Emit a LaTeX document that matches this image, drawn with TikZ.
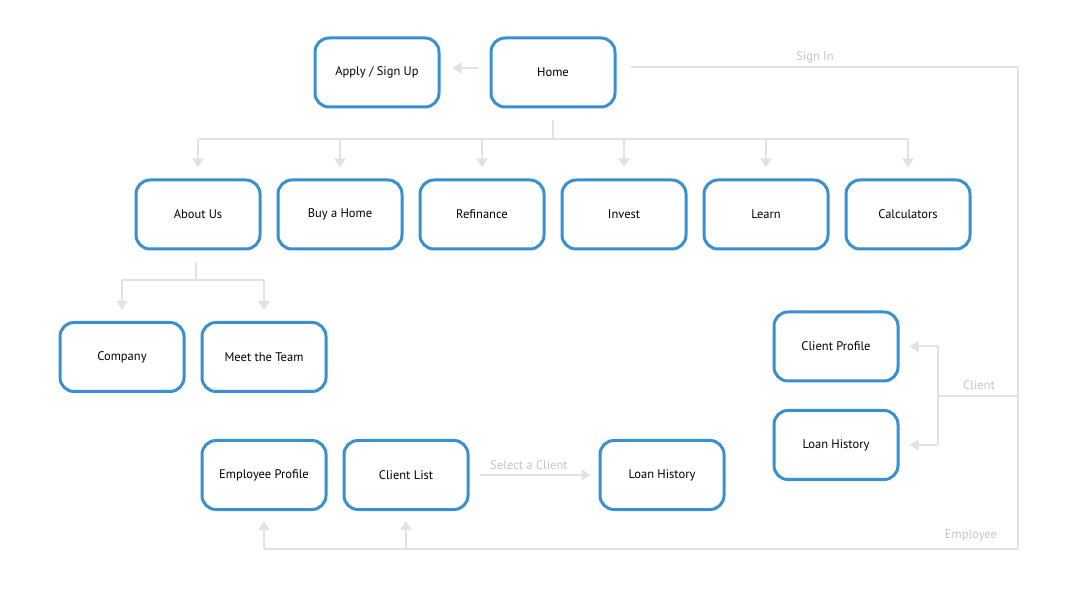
\documentclass[tikz,border=0pt]{standalone}
\usepackage{fontspec}
\setmainfont{PT Sans}
\usetikzlibrary{arrows.meta}
\definecolor{boxblue}{HTML}{3A8FD0}
\definecolor{linegray}{HTML}{E2E2E2}
\definecolor{labelgray}{HTML}{C4C4C4}
\tikzset{
  page/.style={draw=boxblue, line width=3pt, rounded corners=14pt, fill=white,
    minimum width=124pt, minimum height=69pt, inner sep=0pt,
    font=\fontsize{12.5}{14}\selectfont, text=black},
  conn/.style={draw=linegray, line width=2pt},
  arr/.style={conn, -{Triangle[width=11pt,length=9pt]}},
  lbl/.style={text=labelgray, font=\fontsize{12.5}{14}\selectfont, inner sep=0pt}
}
\begin{document}
\begin{tikzpicture}[x=1pt,y=-1pt]
\useasboundingbox (0,0) rectangle (1080,612);
% nodes
\node[page] (apply) at (377,72.5) {Apply / Sign Up};
\node[page] (home) at (553,72.5) {Home};
\node[page] (about) at (198,214.5) {About Us};
\node[page] (buy) at (340,214.5) {Buy a Home};
\node[page] (refi) at (482,214.5) {Refinance};
\node[page] (invest) at (624,214.5) {Invest};
\node[page] (learn) at (766,214.5) {Learn};
\node[page] (calc) at (908,214.5) {Calculators};
\node[page] (company) at (122,357) {Company};
\node[page] (team) at (264,357) {Meet the Team};
\node[page] (cprof) at (836,346.5) {Client Profile};
\node[page] (cloan) at (836,445) {Loan History};
\node[page] (eprof) at (264,475) {Employee Profile};
\node[page] (clist) at (406,475) {Client List};
\node[page] (eloan) at (662,475) {Loan History};
% coordinates
\coordinate (hb) at (553,139);
\coordinate (ab) at (196,280);
\coordinate (abt) at (196,262);
\coordinate (sr) at (1018,67);
\coordinate (br) at (1018,549);
\coordinate (cj) at (1018,396);
\coordinate (cv) at (938,396);
% Home -> Apply
\draw[arr] ([xshift=-11pt,yshift=4.5pt]home.west) -- ([xshift=12pt,yshift=4.5pt]apply.east);
% Home -> row 2
\draw[conn] ([yshift=-12pt]home.south) -- (hb);
\draw[conn] (about.north |- hb) -- (calc.north |- hb);
\foreach \n in {about,buy,refi,invest,learn,calc}
  \draw[arr] (\n.north |- hb) -- ([yshift=11pt]\n.north);
% About -> row 3
\draw[conn] (abt) -- (ab);
\draw[conn] (company.north |- ab) -- (team.north |- ab);
\foreach \n in {company,team}
  \draw[arr] (\n.north |- ab) -- ([yshift=11pt]\n.north);
% Sign In loop
\draw[conn] ([xshift=14pt,yshift=5.5pt]home.east) -- (sr) -- (br) -- (br -| eprof.south);
\draw[arr] (br -| eprof.south) -- ([yshift=-10pt]eprof.south);
\draw[arr] (br -| clist.south) -- ([yshift=-10pt]clist.south);
\node[lbl] (signin) at (815,57) {Sign In};
\node[lbl] (employee) at (971,535) {Employee};
% Client branch
\draw[conn] (cj) -- (cv);
\draw[conn] (cv |- cprof.east) -- (cv |- cloan.east);
\draw[arr] (cv |- cprof.east) -- ([xshift=10pt]cprof.east);
\draw[arr] (cv |- cloan.east) -- ([xshift=10pt]cloan.east);
\node[lbl] (client) at (979,385) {Client};
% Select a client
\draw[arr] ([xshift=10pt]clist.east) -- ([xshift=-8pt]eloan.west);
\node[lbl] (select) at (529,465) {Select a Client};
\end{tikzpicture}
\end{document}
